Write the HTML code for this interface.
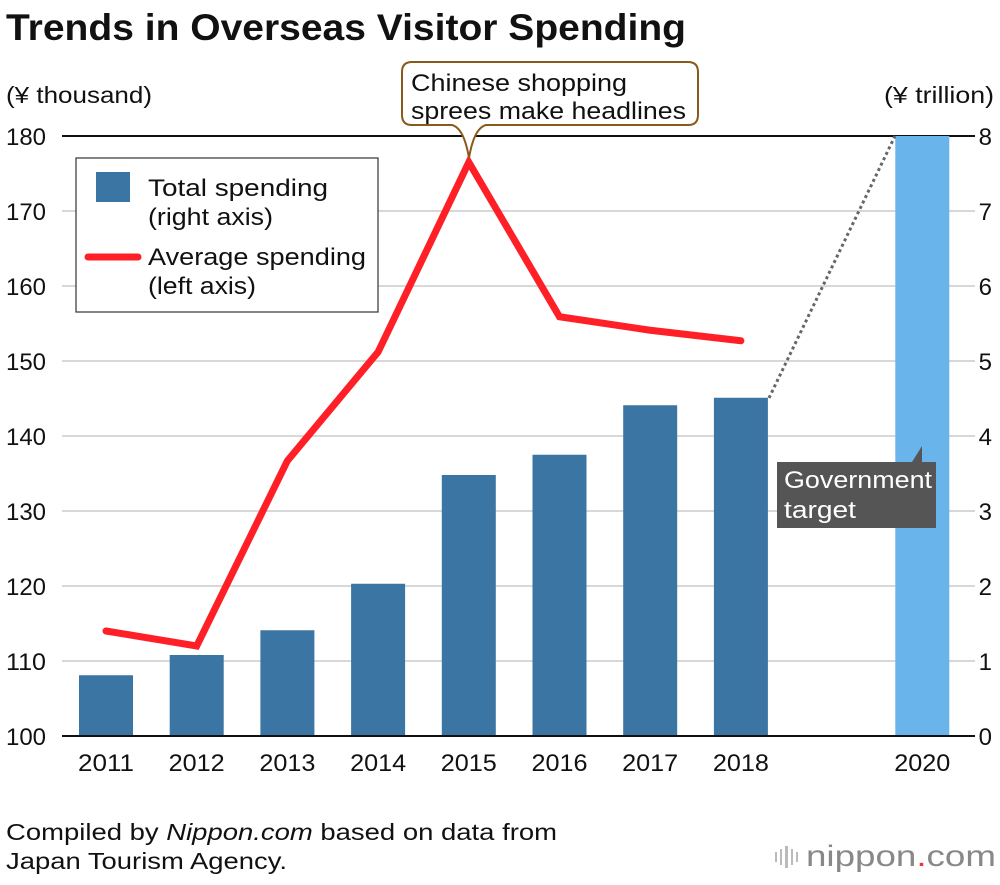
<!DOCTYPE html>
<html><head><meta charset="utf-8"><style>
body{margin:0;background:#fff;width:1000px;height:880px;overflow:hidden;font-family:"Liberation Sans",Arial,sans-serif}
</style></head><body>
<svg width="1000" height="880" viewBox="0 0 1000 880" xmlns="http://www.w3.org/2000/svg" font-family="Liberation Sans, Arial, sans-serif">
<text x="6" y="40" font-size="37" font-weight="bold" fill="#111" textLength="680" lengthAdjust="spacingAndGlyphs">Trends in Overseas Visitor Spending</text>
<text x="6" y="103" font-size="23" fill="#111" textLength="146" lengthAdjust="spacingAndGlyphs">(¥ thousand)</text>
<text x="884" y="103" font-size="23" fill="#111" textLength="110" lengthAdjust="spacingAndGlyphs">(¥ trillion)</text>
<g id="grid"></g>
<g id="bars"></g>
<line x1="769" y1="398" x2="895" y2="136" stroke="#666" stroke-width="3" stroke-dasharray="3,3"/>
<g id="line"></g>
<g id="axes"></g>
<g>
<rect x="76" y="158" width="302" height="154" fill="#fff" stroke="#333" stroke-width="1.2"/>
<rect x="96" y="172" width="34" height="30" fill="#3a75a3"/>
<text x="148" y="196" font-size="24" fill="#111" textLength="180" lengthAdjust="spacingAndGlyphs">Total spending</text>
<text x="148" y="225" font-size="24" fill="#111" textLength="125" lengthAdjust="spacingAndGlyphs">(right axis)</text>
<line x1="88" y1="257" x2="138" y2="257" stroke="#ff1f26" stroke-width="7" stroke-linecap="round"/>
<text x="148" y="265" font-size="24" fill="#111" textLength="218" lengthAdjust="spacingAndGlyphs">Average spending</text>
<text x="148" y="294" font-size="24" fill="#111" textLength="108" lengthAdjust="spacingAndGlyphs">(left axis)</text>
</g>
<g>
<path d="M412,62 H688 Q698,62 698,72 V115 Q698,125 688,125 H486 Q474,128 469,158 Q464,128 452,125 H412 Q402,125 402,115 V72 Q402,62 412,62 Z" fill="#fff" stroke="#8a5a1a" stroke-width="2"/>
<text x="411" y="91" font-size="24" fill="#111" textLength="216" lengthAdjust="spacingAndGlyphs">Chinese shopping</text>
<text x="411" y="119" font-size="24" fill="#111" textLength="275" lengthAdjust="spacingAndGlyphs">sprees make headlines</text>
</g>
<g>
<path d="M777,462 H912 L922,446 L922,462 H936 V528 H777 Z" fill="#555"/>
<text x="784" y="488" font-size="24" fill="#fff" textLength="148" lengthAdjust="spacingAndGlyphs">Government</text>
<text x="784" y="518" font-size="24" fill="#fff" textLength="72" lengthAdjust="spacingAndGlyphs">target</text>
</g>
<text x="6" y="840" font-size="23" fill="#111" textLength="551" lengthAdjust="spacingAndGlyphs">Compiled by <tspan font-style="italic">Nippon.com</tspan> based on data from</text>
<text x="6" y="869" font-size="23" fill="#111" textLength="281" lengthAdjust="spacingAndGlyphs">Japan Tourism Agency.</text>
<g>
<g fill="#bbb"><rect x="775" y="852" width="2" height="10"/><rect x="780" y="849" width="2" height="16"/><rect x="785" y="846" width="3" height="22"/><rect x="791" y="849" width="2" height="16"/><rect x="796" y="852" width="2" height="10"/></g>
<text x="806" y="866" font-size="30" fill="#888" textLength="190" lengthAdjust="spacingAndGlyphs">nippon<tspan fill="#e33">.</tspan>com</text>
</g>
<script>
const years=["2011","2012","2013","2014","2015","2016","2017","2018","2020"];
const totalSpending=[0.81,1.08,1.41,2.03,3.48,3.75,4.41,4.51,8.0];
const lineYears=["2011","2012","2013","2014","2015","2016","2017","2018"];
const avgSpending=[114.0,112.0,136.7,151.2,176.5,155.9,154.1,152.7];
const leftTicks=[100,110,120,130,140,150,160,170,180];
const rightTicks=[0,1,2,3,4,5,6,7,8];
const NS="http://www.w3.org/2000/svg";
const slot={"2011":0,"2012":1,"2013":2,"2014":3,"2015":4,"2016":5,"2017":6,"2018":7,"2020":9};
function xPos(y){return 106+slot[y]*90.7;}
function yL(v){return 736-(v-100)*7.5;}
function yR(v){return 736-v*75;}
function mk(tag,attrs,parent){const e=document.createElementNS(NS,tag);for(const k in attrs)e.setAttribute(k,attrs[k]);parent.appendChild(e);return e;}
const grid=document.getElementById('grid'),bars=document.getElementById('bars'),line=document.getElementById('line'),axes=document.getElementById('axes');
leftTicks.forEach((t,i)=>{
 const y=yL(t);
 const g=mk('line',{x1:62,x2:975,y1:y,y2:y,stroke:i==leftTicks.length-1?'#111':'#ccc','stroke-width':i==leftTicks.length-1?2:1.5},grid);
 
 
 const tx=mk('text',{x:6,y:y+9,'font-size':24,fill:'#111',textLength:40,lengthAdjust:'spacingAndGlyphs'},axes);tx.textContent=t;
 
 
});
rightTicks.forEach(t=>{
 const tx=mk('text',{x:992,y:yR(t)+9,'font-size':24,fill:'#111','text-anchor':'end'},axes);tx.textContent=t;
 
 
});
const base=mk('line',{x1:62,x2:975,y1:736,y2:736,stroke:'#111','stroke-width':2},axes);


years.forEach((yr,i)=>{
 const x=xPos(yr),v=totalSpending[i];
 const r=mk('rect',{x:x-27,y:yR(v),width:54,height:736-yR(v),fill:yr=="2020"?'#6ab4ec':'#3a75a3'},bars);
 
 
 const tx=mk('text',{x:x-28,y:771,'font-size':24,fill:'#111',textLength:56,lengthAdjust:'spacingAndGlyphs'},axes);tx.textContent=yr;
 
 
});
const pts=lineYears.map((yr,i)=>xPos(yr)+','+yL(avgSpending[i])).join(' ');
const pl=mk('polyline',{points:pts,fill:'none',stroke:'#ff1f26','stroke-width':7,'stroke-linejoin':'miter','stroke-linecap':'round'},line);


</script>
</svg>
</body></html>
